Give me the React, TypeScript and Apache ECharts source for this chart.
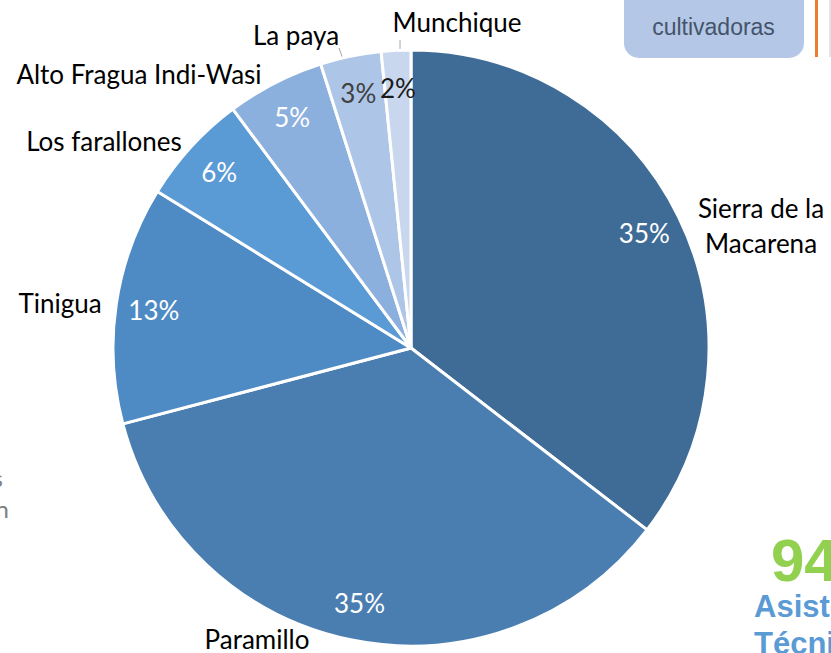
import React, { useEffect, useRef } from 'react';
import * as echarts from 'echarts';

const categories = [
  'Sierra de la Macarena',
  'Paramillo',
  'Tinigua',
  'Los farallones',
  'Alto Fragua Indi-Wasi',
  'La paya',
  'Munchique',
];
const nameLabels = [
  'Sierra de la\nMacarena',
  'Paramillo',
  'Tinigua',
  'Los farallones',
  'Alto Fragua Indi-Wasi',
  'La paya',
  'Munchique',
];
const values = [35.45, 35.45, 12.9, 6.0, 5.3, 3.3, 1.6];

const sliceColors = ['#3F6C97', '#4A7EB1', '#4E8BC5', '#5B9BD5', '#8CB0DE', '#ADC5E7', '#C8D7EE'];
const percentColors = ['#FFFFFF', '#FFFFFF', '#FFFFFF', '#FFFFFF', '#FFFFFF', '#404040', '#1A1A1A'];
const nameLabelPos: [number, number][] = [
  [761, 225],
  [257, 639],
  [60, 303],
  [104, 141],
  [139, 74],
  [296, 35],
  [457, 22],
];
const leaderLines: (number[][] | null)[] = [
  null,
  null,
  null,
  null,
  null,
  [[339, 48], [345, 65]],
  [[400, 40], [400, 65]],
];

const total = values.reduce((a, b) => a + b, 0);
const FONT = 'Lato, "Noto Sans", sans-serif';
const SANS = '"Liberation Sans", Arial, sans-serif';

export default function App() {
  const ref = useRef<HTMLDivElement>(null);
  useEffect(() => {
    if (!ref.current) return;
    const chart = echarts.init(ref.current, null, { renderer: 'svg' });
    const option: any = {
      animation: false,
      backgroundColor: '#FFFFFF',
      graphic: [
        {
          type: 'rect',
          shape: { x: 624, y: -20, width: 180, height: 78, r: 15 },
          style: { fill: '#B4C7E7' },
        },
        {
          type: 'text',
          x: 713.5,
          y: 27,
          style: {
            text: 'cultivadoras',
            fontFamily: SANS,
            fontSize: 23,
            fill: '#44546A',
            align: 'center',
            verticalAlign: 'middle',
          },
        },
        {
          type: 'rect',
          shape: { x: 815, y: 0, width: 3, height: 57 },
          style: { fill: '#ED7D31' },
        },
        {
          type: 'rect',
          shape: { x: 829, y: 0, width: 2, height: 57 },
          style: { fill: '#E4E4E4' },
        },
        {
          type: 'text',
          x: 3,
          y: 477,
          style: {
            text: 's',
            fontFamily: FONT,
            fontSize: 24,
            fill: '#7F7F7F',
            align: 'right',
            verticalAlign: 'middle',
          },
        },
        {
          type: 'text',
          x: 9,
          y: 508,
          style: {
            text: 'n',
            fontFamily: FONT,
            fontSize: 24,
            fill: '#7F7F7F',
            align: 'right',
            verticalAlign: 'middle',
          },
        },
        {
          type: 'text',
          x: 771,
          y: 560,
          style: {
            text: '94',
            fontFamily: SANS,
            fontWeight: 'bold',
            fontSize: 60,
            fill: '#92D050',
            align: 'left',
            verticalAlign: 'middle',
          },
        },
        {
          type: 'text',
          x: 754,
          y: 606,
          style: {
            text: 'Asistencia',
            fontFamily: SANS,
            fontWeight: 'bold',
            fontSize: 31,
            fill: '#5B9BD5',
            align: 'left',
            verticalAlign: 'middle',
          },
        },
        {
          type: 'text',
          x: 754,
          y: 643,
          style: {
            text: 'Técnica',
            fontFamily: SANS,
            fontWeight: 'bold',
            fontSize: 31,
            fill: '#5B9BD5',
            align: 'left',
            verticalAlign: 'middle',
          },
        },
      ],
      series: [
        {
          type: 'pie',
          name: 'names',
          center: [411, 348],
          radius: 298,
          startAngle: 90,
          clockwise: true,
          avoidLabelOverlap: false,
          itemStyle: { borderColor: '#FFFFFF', borderWidth: 3 },
          emphasis: { disabled: true },
          label: {
            show: true,
            position: 'outside',
            overflow: 'none',
            fontFamily: FONT,
            fontSize: 26,
            lineHeight: 35,
            color: '#000000',
            formatter: (p: any) => nameLabels[p.dataIndex],
          },
          labelLine: { show: false, lineStyle: { color: '#A6A6A6', width: 1 } },
          labelLayout: (p: any) => {
            const [x, y] = nameLabelPos[p.dataIndex];
            const res: any = { x, y, align: 'center', verticalAlign: 'middle' };
            const line = leaderLines[p.dataIndex];
            if (line) res.labelLinePoints = line;
            return res;
          },
          data: categories.map((c, i) => ({
            name: c,
            value: values[i],
            itemStyle: { color: sliceColors[i] },
            labelLine: { show: !!leaderLines[i] },
          })),
        },
        {
          type: 'pie',
          name: 'percent',
          center: [411, 348],
          radius: [216, 298],
          startAngle: 90,
          clockwise: true,
          silent: true,
          avoidLabelOverlap: false,
          itemStyle: { color: 'rgba(0,0,0,0)', borderWidth: 0 },
          emphasis: { disabled: true },
          label: {
            show: true,
            position: 'inside',
            fontFamily: FONT,
            fontSize: 26,
            formatter: (p: any) => Math.round((p.value / total) * 100) + '%',
          },
          labelLine: { show: false },
          data: categories.map((c, i) => ({
            name: c,
            value: values[i],
            label: { color: percentColors[i] },
          })),
        },
      ],
    };
    chart.setOption(option);
    return () => chart.dispose();
  }, []);
  return (
    <div
      ref={ref}
      style={{ position: 'fixed', left: 0, top: 0, width: 831, height: 653 }}
    />
  );
}
